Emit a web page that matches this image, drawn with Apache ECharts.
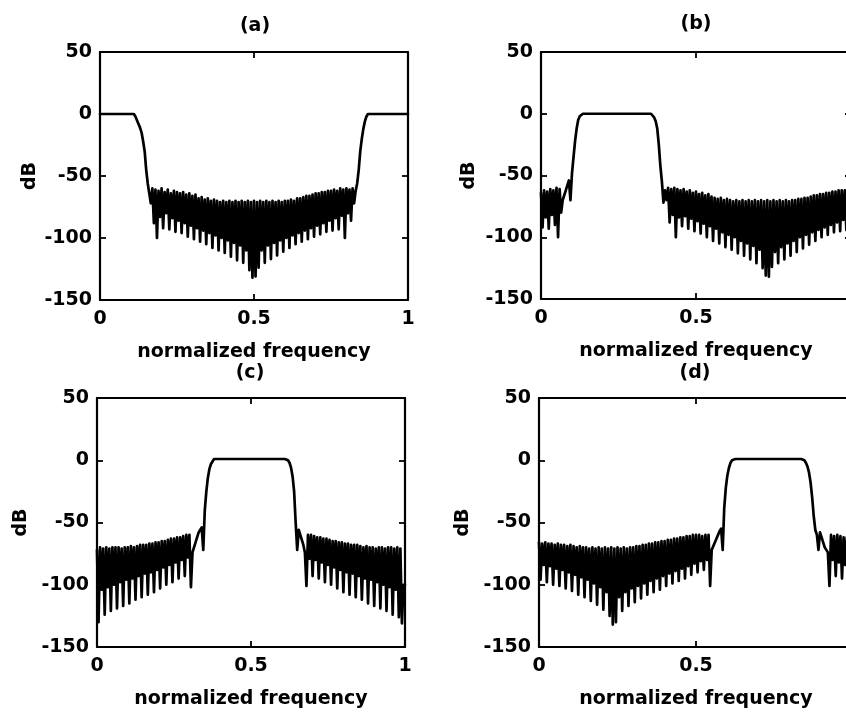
<!DOCTYPE html>
<html>
<head>
<meta charset="utf-8">
<script src="https://cdn.jsdelivr.net/npm/echarts@6.0.0/dist/echarts.min.js"></script>
<style>
html,body{margin:0;padding:0;background:#fff;}
#chart{width:846px;height:713px;}
</style>
</head>
<body>
<div id="chart"></div>
<script>
// Frequency sampling grid (normalized frequency 0..1, step 0.005)
const freq = Array.from({length: 201}, (_, i) => Math.round(i * 5) / 1000);

// Magnitude responses in dB, one value per grid frequency
const dbA = [
  0,0,0,0,0,0,0,0,0,0,
  0,0,0,0,0,0,0,0,0,0,
  0,0,0,-2,-5,-8,-11,-15,-22,-30,
  -45,-56,-64,-72,-60,-88,-61,-100,-62,-83,
  -60,-92,-63,-80,-61,-93,-64,-84,-62,-95,
  -63,-86,-64,-96,-63,-88,-65,-99,-64,-90,
  -66,-101,-65,-92,-68,-103,-67,-94,-69,-105,
  -68,-96,-70,-108,-69,-98,-70,-110,-71,-100,
  -70,-112,-71,-102,-70,-115,-71,-104,-70,-118,
  -71,-106,-70,-120,-71,-110,-70,-126,-71,-132,
  -70,-131,-71,-124,-70,-110,-71,-120,-70,-106,
  -71,-117,-70,-104,-71,-114,-70,-102,-71,-111,
  -70,-100,-70,-108,-69,-98,-70,-105,-68,-96,
  -68,-103,-67,-94,-66,-101,-66,-92,-65,-99,
  -64,-90,-64,-97,-63,-88,-63,-95,-62,-86,
  -62,-94,-61,-84,-62,-93,-60,-82,-61,-100,
  -60,-80,-61,-86,-60,-72,-62,-56,-45,-30,
  -20,-12,-6,-2,0,0,0,0,0,0,
  0,0,0,0,0,0,0,0,0,0,
  0,0,0,0,0,0,0,0,0,0,
  0
];
const dbB = [
  -64,-92,-62,-84,-63,-93,-61,-82,-62,-90,
  -60,-100,-61,-80,-70,-66,-62,-58,-54,-70,
  -48,-35,-22,-12,-5,-2,-1,0,0,0,
  0,0,0,0,0,0,0,0,0,0,
  0,0,0,0,0,0,0,0,0,0,
  0,0,0,0,0,0,0,0,0,0,
  0,0,0,0,0,0,0,0,0,0,
  0,0,-1,-3,-6,-12,-25,-42,-55,-72,
  -62,-70,-60,-88,-61,-82,-60,-100,-61,-84,
  -62,-91,-61,-83,-63,-93,-62,-85,-64,-95,
  -63,-87,-65,-97,-64,-89,-66,-100,-65,-91,
  -67,-103,-68,-93,-69,-105,-68,-96,-70,-108,
  -69,-98,-70,-110,-71,-100,-70,-113,-71,-103,
  -70,-115,-71,-105,-70,-118,-71,-107,-70,-121,
  -71,-110,-70,-125,-71,-131,-70,-132,-71,-124,
  -70,-112,-71,-121,-70,-108,-71,-118,-70,-105,
  -71,-115,-70,-103,-70,-112,-69,-100,-69,-109,
  -68,-98,-68,-106,-67,-96,-66,-103,-66,-94,
  -65,-100,-65,-92,-64,-98,-64,-90,-63,-96,
  -63,-88,-62,-95,-62,-86,-62,-94,-61,-84,
  -62
];
const dbC = [
  -72,-130,-70,-104,-71,-124,-70,-102,-71,-121,
  -70,-100,-70,-119,-70,-98,-71,-117,-70,-96,
  -70,-115,-69,-95,-70,-112,-69,-93,-68,-110,
  -68,-91,-68,-108,-67,-90,-67,-106,-66,-88,
  -66,-103,-65,-86,-65,-100,-64,-84,-63,-98,
  -63,-82,-62,-95,-62,-80,-61,-93,-60,-78,
  -60,-102,-74,-70,-66,-62,-58,-57,-54,-72,
  -40,-25,-14,-7,-3,-1,1,1,1,1,
  1,1,1,1,1,1,1,1,1,1,
  1,1,1,1,1,1,1,1,1,1,
  1,1,1,1,1,1,1,1,1,1,
  1,1,1,1,1,1,1,1,1,1,
  1,1,1,1,0,-2,-6,-13,-25,-50,
  -72,-56,-60,-64,-68,-74,-101,-60,-79,-60,
  -93,-61,-80,-62,-95,-62,-82,-63,-98,-63,
  -84,-64,-100,-65,-86,-65,-103,-66,-88,-66,
  -106,-67,-90,-67,-108,-68,-91,-68,-110,-68,
  -93,-69,-112,-70,-95,-69,-115,-70,-96,-70,
  -117,-71,-98,-70,-119,-70,-100,-71,-121,-70,
  -102,-70,-124,-71,-104,-70,-126,-71,-131,-100,
  -100
];
const dbD = [
  -66,-96,-67,-84,-66,-98,-67,-85,-67,-100,
  -68,-87,-67,-101,-68,-88,-68,-103,-69,-90,
  -68,-105,-69,-92,-70,-108,-69,-94,-70,-110,
  -70,-96,-71,-113,-70,-99,-71,-116,-70,-102,
  -71,-120,-70,-106,-71,-125,-70,-132,-71,-130,
  -70,-110,-71,-121,-70,-106,-71,-117,-70,-103,
  -70,-114,-69,-101,-69,-111,-68,-99,-68,-108,
  -67,-97,-67,-106,-66,-95,-66,-104,-65,-93,
  -65,-101,-64,-91,-64,-99,-63,-89,-63,-97,
  -62,-87,-62,-95,-61,-85,-61,-92,-60,-83,
  -60,-90,-60,-81,-61,-88,-60,-80,-60,-101,
  -72,-69,-66,-63,-60,-57,-55,-72,-38,-22,
  -12,-6,-2,0,1,1,1,1,1,1,
  1,1,1,1,1,1,1,1,1,1,
  1,1,1,1,1,1,1,1,1,1,
  1,1,1,1,1,1,1,1,1,1,
  1,1,1,1,1,1,1,1,1,0,
  -2,-5,-10,-18,-30,-45,-56,-60,-72,-58,
  -62,-66,-70,-72,-74,-101,-60,-80,-61,-93,
  -60,-82,-61,-95,-62,-84,-62,-96,-63,-86,
  -64
];

const panelTitles = ['(a)', '(b)', '(c)', '(d)'];
const xTickValues = [0, 0.5, 1];
const yTickValues = [50, 0, -50, -100, -150];
const xLabelText = 'normalized frequency';
const yLabelText = 'dB';

[dbA, dbB, dbC, dbD].forEach((a, k) => {
  if (a.length !== freq.length) throw new Error('array ' + k + ' has length ' + a.length);
});

// Layout (positions/sizes)
const layout = [
  {grid: {left: 100, top: 52, width: 308, height: 248}, yGap: 60, tx: 255, ty: 26},
  {grid: {left: 541, top: 52, width: 310, height: 247}, yGap: 62, tx: 696, ty: 24},
  {grid: {left: 97, top: 398, width: 308, height: 249}, yGap: 66, tx: 250, ty: 373},
  {grid: {left: 539, top: 398, width: 314, height: 249}, yGap: 66, tx: 695, ty: 373}
];

const FONT = 'DejaVu Sans';
const FS = 19;
const lineStyle = {color: '#000', width: 2.2};
const tick = {show: true, inside: true, length: 6, lineStyle: {color: '#000', width: 1.8}};

const grids = [], xAxes = [], yAxes = [], series = [], graphics = [];
const datasets = [dbA, dbB, dbC, dbD];

datasets.forEach((db, k) => {
  const L = layout[k];
  grids.push(Object.assign({containLabel: false, outerBoundsMode: 'none'}, L.grid));
  const xMin = xTickValues[0], xMax = xTickValues[xTickValues.length - 1];
  const yMin = yTickValues[yTickValues.length - 1], yMax = yTickValues[0];
  xAxes.push({
    type: 'value', gridIndex: k, position: 'bottom', min: xMin, max: xMax, interval: 0.5,
    axisLine: {show: true, onZero: false, lineStyle},
    axisTick: tick, splitLine: {show: false},
    axisLabel: {color: '#000', fontFamily: FONT, fontSize: FS, fontWeight: 'bold', margin: 10},
    name: xLabelText, nameLocation: 'middle', nameGap: 43,
    nameTextStyle: {color: '#000', fontFamily: FONT, fontSize: FS, fontWeight: 'bold'}
  });
  xAxes.push({
    type: 'value', gridIndex: k, position: 'top', min: xMin, max: xMax, interval: 0.5,
    axisLine: {show: true, onZero: false, lineStyle},
    axisTick: tick, splitLine: {show: false}, axisLabel: {show: false}
  });
  yAxes.push({
    type: 'value', gridIndex: k, position: 'left', min: yMin, max: yMax, interval: 50,
    axisLine: {show: true, onZero: false, lineStyle},
    axisTick: tick, splitLine: {show: false},
    axisLabel: {color: '#000', fontFamily: FONT, fontSize: FS, fontWeight: 'bold', margin: 8},
    name: yLabelText, nameLocation: 'middle', nameGap: L.yGap, nameRotate: 90,
    nameTextStyle: {color: '#000', fontFamily: FONT, fontSize: FS, fontWeight: 'bold'}
  });
  yAxes.push({
    type: 'value', gridIndex: k, position: 'right', min: yMin, max: yMax, interval: 50,
    axisLine: {show: true, onZero: false, lineStyle},
    axisTick: tick, splitLine: {show: false}, axisLabel: {show: false}
  });
  series.push({
    type: 'line', xAxisIndex: 2 * k, yAxisIndex: 2 * k,
    data: freq.map((f, i) => [f, db[i]]),
    showSymbol: false, symbol: 'none', clip: true,
    lineStyle: {color: '#000', width: 2.7, join: 'round', cap: 'round'}, animation: false
  });
  graphics.push({
    type: 'text', x: L.tx, y: L.ty,
    style: {text: panelTitles[k], fill: '#000', font: 'bold ' + FS + 'px "' + FONT + '"', align: 'center', verticalAlign: 'middle'}
  });
});

const chart = echarts.init(document.getElementById('chart'), null, {renderer: 'canvas'});
chart.setOption({
  backgroundColor: '#fff',
  animation: false,
  grid: grids,
  xAxis: xAxes,
  yAxis: yAxes,
  series: series,
  graphic: graphics
});
</script>
</body>
</html>
